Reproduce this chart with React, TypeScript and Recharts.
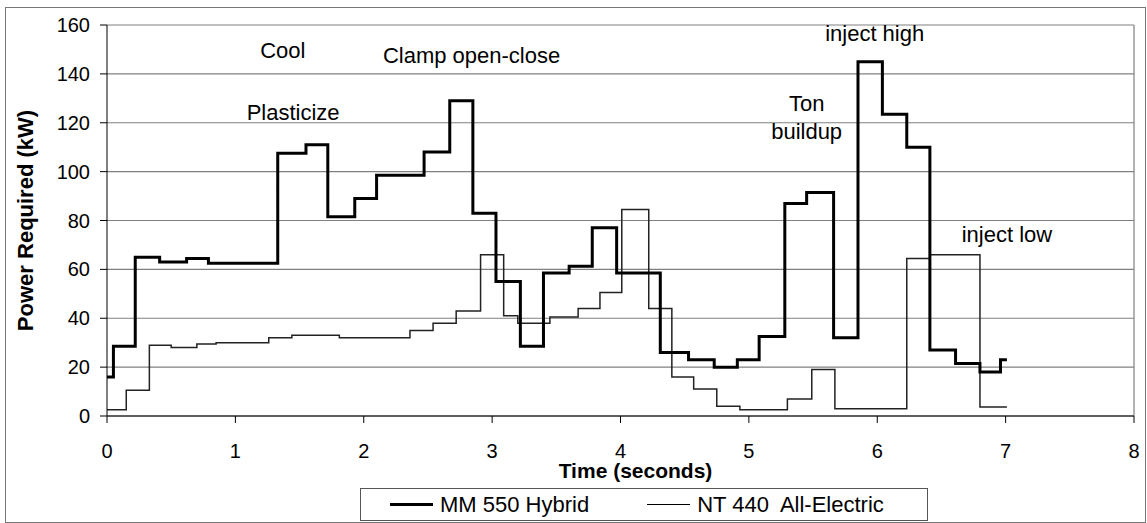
import React from "react";
import {
  LineChart,
  Line,
  XAxis,
  YAxis,
  CartesianGrid,
  Legend,
  ReferenceDot,
  ReferenceLine,
} from "recharts";

// step samples: time (s) where the level starts, and the level in kW
const hybridTime = [
  0, 0.05, 0.22, 0.41, 0.62, 0.79, 1.33, 1.55, 1.72, 1.93, 2.1, 2.47, 2.67,
  2.85, 3.03, 3.22, 3.4, 3.6, 3.78, 3.97, 4.31, 4.53, 4.73, 4.91, 5.08, 5.28,
  5.45, 5.66, 5.85, 6.04, 6.23, 6.41, 6.61, 6.8, 6.96, 7.01,
];
const hybridKW = [
  16, 28.5, 65, 63, 64.5, 62.5, 107.5, 111, 81.5, 89, 98.5, 108, 129, 83, 55,
  28.5, 58.5, 61.3, 77, 58.5, 26, 23, 20, 23, 32.5, 87, 91.5, 32, 145, 123.5,
  110, 27, 21.5, 18, 23, 23,
];

const electricTime = [
  0, 0.15, 0.33, 0.5, 0.7, 0.85, 1.26, 1.44, 1.81, 2.36, 2.54, 2.72, 2.91,
  3.09, 3.2, 3.45, 3.67, 3.84, 4.01, 4.22, 4.4, 4.57, 4.75, 4.93, 5.3, 5.49,
  5.67, 6.23, 6.41, 6.8, 7.01,
];
const electricKW = [
  2.6, 10.5, 29, 28, 29.5, 30, 32, 33, 32, 35, 38, 43, 66, 41, 38, 40.5, 44,
  50.5, 84.5, 44, 16, 11, 4, 2.6, 7, 19, 3, 64.5, 66, 3.7, 3.7,
];

const xTicks = [0, 1, 2, 3, 4, 5, 6, 7, 8];
const yTicks = [0, 20, 40, 60, 80, 100, 120, 140, 160];

// phase notes placed in data units (time, kW)
const notes = [
  { text: "Cool", t: 1.37, kw: 149.5 },
  { text: "Plasticize", t: 1.45, kw: 124.5 },
  { text: "Clamp open-close", t: 2.84, kw: 147.5 },
  { text: "inject high", t: 5.98, kw: 156.5 },
  { text: "Ton", t: 5.45, kw: 128 },
  { text: "buildup", t: 5.45, kw: 116.5 },
  { text: "inject low", t: 7.01, kw: 74.5 },
];

const hybridRows = hybridTime.map((t, i) => ({ t, kw: hybridKW[i] }));
const electricRows = electricTime.map((t, i) => ({ t, kw: electricKW[i] }));

const FONT = "'Liberation Sans', Arial, sans-serif";
const tickStyle = { fontSize: 20, fill: "#000", fontFamily: FONT };

function YTitle({ viewBox }: any) {
  const { x, y, height } = viewBox;
  const cx = x + 18;
  const cy = y + height / 2;
  return (
    <text
      x={cx}
      y={cy}
      transform={`rotate(-90, ${cx}, ${cy})`}
      textAnchor="middle"
      dominantBaseline="central"
      fontFamily={FONT}
      fontWeight="bold"
      fontSize={22}
      fill="#000"
    >
      Power Required (kW)
    </text>
  );
}

function LegendBox({ payload }: any) {
  const widths: Record<string, number> = {
    "MM 550 Hybrid": 2.5,
    "NT 440  All-Electric": 1.3,
  };
  return (
    <div
      style={{
        boxSizing: "border-box",
        height: 33,
        border: "1px solid #555",
        background: "#fff",
        display: "flex",
        alignItems: "center",
        paddingLeft: 29,
        fontFamily: FONT,
        fontSize: 22,
        color: "#000",
        whiteSpace: "pre",
      }}
    >
      {(payload || []).map((p: any, i: number) => (
        <div
          key={p.value}
          style={{
            display: "flex",
            alignItems: "center",
            marginLeft: i === 0 ? 0 : 58,
          }}
        >
          <div
            style={{
              width: 43,
              height: widths[p.value] ?? 1.5,
              background: "#000",
              marginRight: 7,
            }}
          />
          <span>{p.value}</span>
        </div>
      ))}
    </div>
  );
}

export default function App() {
  return (
    <div
      style={{
        position: "absolute",
        left: 0,
        top: 0,
        width: 1147,
        height: 523,
        background: "#fff",
      }}
    >
      <div
        style={{
          position: "absolute",
          left: 5,
          top: 7,
          width: 1139,
          height: 514,
          border: "1px solid #777",
          pointerEvents: "none",
        }}
      />
      <LineChart
        width={1147}
        height={523}
        margin={{ top: 25, right: 13, left: 7, bottom: 34 }}
      >
        <CartesianGrid vertical={false} stroke="#808080" strokeWidth={1.2} />
        <ReferenceLine x={8} stroke="#808080" strokeWidth={1.2} />
        <XAxis
          type="number"
          dataKey="t"
          domain={[0, 8]}
          ticks={xTicks}
          interval={0}
          allowDataOverflow
          height={40}
          tickSize={7}
          tickMargin={21}
          tick={tickStyle}
          stroke="#000"
          label={{
            value: "Time (seconds)",
            position: "insideBottom",
            offset: -22,
            dx: 15,
            fontSize: 21,
            fontWeight: "bold",
            fontFamily: FONT,
            fill: "#000",
          }}
        />
        <YAxis
          type="number"
          domain={[0, 160]}
          ticks={yTicks}
          interval={0}
          width={100}
          tickSize={7}
          tickMargin={10}
          tick={tickStyle}
          stroke="#000"
          label={<YTitle />}
        />
        <Legend
          verticalAlign="bottom"
          content={<LegendBox />}
          wrapperStyle={{ left: 360, bottom: 2, width: 568, height: 33 }}
        />
        {notes.map((n) => (
          <ReferenceDot
            key={n.text}
            x={n.t}
            y={n.kw}
            r={0}
            fill="none"
            stroke="none"
            label={{
              value: n.text,
              position: "center",
              fontSize: 22,
              fontFamily: FONT,
              fill: "#000",
            }}
          />
        ))}
        <Line
          data={electricRows}
          dataKey="kw"
          name="NT 440  All-Electric"
          type="stepAfter"
          stroke="#222"
          strokeWidth={1.5}
          dot={false}
          activeDot={false}
          isAnimationActive={false}
        />
        <Line
          data={hybridRows}
          dataKey="kw"
          name="MM 550 Hybrid"
          type="stepAfter"
          stroke="#000"
          strokeWidth={3}
          dot={false}
          activeDot={false}
          isAnimationActive={false}
        />
      </LineChart>
    </div>
  );
}
